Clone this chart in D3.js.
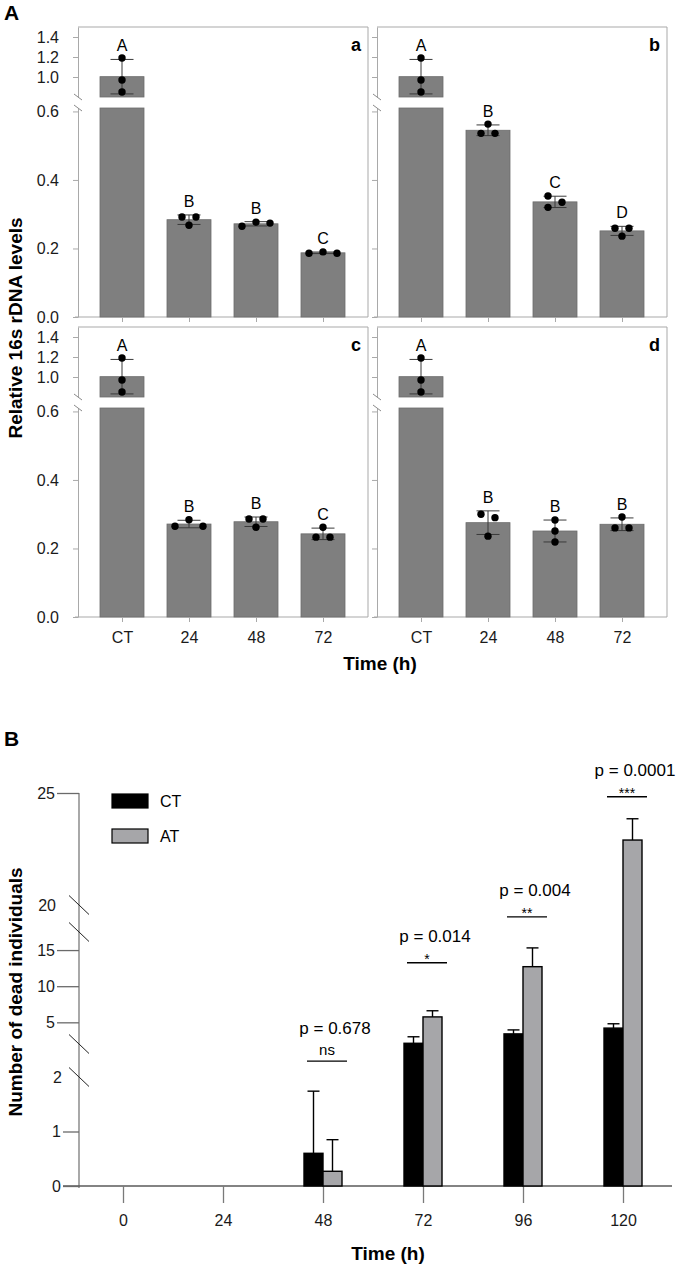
<!DOCTYPE html>
<html>
<head>
<meta charset="utf-8">
<script src="https://cdn.jsdelivr.net/npm/d3@7"></script>
<style>
body { margin: 0; background: #fff; }
svg { font-family: "Liberation Sans", Arial, sans-serif; }
</style>
</head>
<body>
<script>
"use strict"

// ---------- panel A : relative 16s rDNA levels ----------
var timeCats = ["CT", "24", "48", "72"];
var panelNames = ["a", "b", "c", "d"];
var ctDots = [1.19, 0.97, 0.85];
var dotsA = [ctDots, [0.292, 0.292, 0.268], [0.265, 0.277, 0.274], [0.186, 0.19, 0.186]];
var dotsB = [ctDots, [0.563, 0.536, 0.536], [0.353, 0.335, 0.32], [0.259, 0.259, 0.236]];
var dotsC = [ctDots, [0.265, 0.284, 0.265], [0.286, 0.286, 0.262], [0.262, 0.233, 0.233]];
var dotsD = [ctDots, [0.30, 0.29, 0.236], [0.283, 0.251, 0.219], [0.292, 0.26, 0.26]];
var lettersA = ["A", "B", "B", "C"];
var lettersB = ["A", "B", "C", "D"];
var lettersC = ["A", "B", "B", "C"];
var lettersD = ["A", "B", "B", "B"];
var lowTicksA = [0, 0.2, 0.4, 0.6];
var highTicksA = [1.0, 1.2, 1.4];

// ---------- panel B : number of dead individuals ----------
var hours = ["0", "24", "48", "72", "96", "120"];
var ctMean = [0, 0, 0.6, 2.1, 3.4, 4.2];
var ctSd = [0, 0, 1.14, 0.9, 0.55, 0.6];
var atMean = [0, 0, 0.27, 5.75, 12.7, 22.9];
var atSd = [0, 0, 0.58, 0.85, 2.6, 0.95];
var pText = [null, null, "p = 0.678", "p = 0.014", "p = 0.004", "p = 0.0001"];
var stars = [null, null, "ns", "*", "**", "***"];
var lowTicksB = [0, 1];
var midTicksB = [5, 10, 15];
var highTicksB = [25];
var groups = ["CT", "AT"];

var font = '"Liberation Sans", Arial, sans-serif';
var frameCol = "#a9a9a9";
var barGrey = "#7f7f7f";
var atGrey = "#a6a6a9";

var svg = d3.select("body").append("svg")
            .attr("width", 678)
            .attr("height", 1266);

function styleAxis(g, size, col) {
    g.attr("font-family", font).attr("font-size", size);
    g.selectAll("line, path").attr("stroke", col);
    g.selectAll("text").attr("fill", "#1a1a1a");
}

// place replicate dots side by side when they overlap
function spread(vals, yOf) {
    var idx = vals.map(function(v, i) { return i; })
                  .sort(function(a, b) { return yOf(vals[a]) - yOf(vals[b]); });
    var off = vals.map(function() { return 0; });
    var clusters = [], cur = [idx[0]];
    for (var i = 1; i < idx.length; i++) {
        if (yOf(vals[idx[i]]) - yOf(vals[idx[i - 1]]) < 7) cur.push(idx[i]);
        else { clusters.push(cur); cur = [idx[i]]; }
    }
    clusters.push(cur);
    clusters.forEach(function(c) {
        if (c.length < 2) return;
        var span = yOf(vals[c[c.length - 1]]) - yOf(vals[c[0]]);
        if (span < 7) {
            var ord = c.slice().sort(d3.ascending);
            ord.forEach(function(j, n) { off[j] = (n - (ord.length - 1) / 2) * 14; });
        } else {
            c.forEach(function(j, n) { off[j] = n % 2 ? 7 : -7; });
        }
    });
    return off;
}

svg.append("text").attr("x", 4).attr("y", 20)
   .attr("font-size", 21).attr("font-weight", "bold").text("A");

var panelDots = [dotsA, dotsB, dotsC, dotsD];
var panelLetters = [lettersA, lettersB, lettersC, lettersD];

panelNames.forEach(function(name, k) {
    var col = k % 2, row = Math.floor(k / 2);
    var left = 78 + col * 299, top = 27 + row * 300;
    var right = left + 290, bottom = top + 290;

    var yLow = d3.scaleLinear().domain([0, 0.61]).range([bottom, bottom - 209]);
    var yHigh = d3.scaleLinear().domain([0.8, 1.5]).range([top + 70, top]);
    var y = function(v) { return v < 0.7 ? yLow(v) : yHigh(v); };
    var x = d3.scalePoint().domain(timeCats).range([left + 44, left + 245]);

    var g = svg.append("g");

    // frame
    g.append("path")
     .attr("d", "M" + left + "," + top + "H" + right + "V" + bottom)
     .attr("fill", "none").attr("stroke", frameCol);
    g.append("line")
     .attr("x1", left - 3).attr("x2", right)
     .attr("y1", bottom).attr("y2", bottom)
     .attr("stroke", frameCol);

    var data = panelDots[k].map(function(vals, i) {
        return { cat: timeCats[i], vals: vals, mean: d3.mean(vals),
                 sd: d3.deviation(vals), letter: panelLetters[k][i] };
    });

    // bars, cut at the axis break
    [yLow, yHigh].forEach(function(s) {
        var lo = s.domain()[0], hi = s.domain()[1];
        g.selectAll(null)
         .data(data.filter(function(d) { return d.mean > lo; }))
         .join("rect")
         .attr("x", function(d) { return x(d.cat) - 22; })
         .attr("width", 44)
         .attr("y", function(d) { return s(Math.min(d.mean, hi)); })
         .attr("height", function(d) { return s(lo) - s(Math.min(d.mean, hi)); })
         .attr("fill", barGrey)
         .attr("stroke", "#6c6c6c")
         .attr("stroke-width", 0.8);
    });

    // left axis in two segments
    [[yLow, lowTicksA], [yHigh, highTicksA]].forEach(function(p) {
        var ax = g.append("g")
                  .attr("transform", "translate(" + left + ",0)")
                  .call(d3.axisLeft(p[0]).tickValues(p[1]).tickSize(5).tickSizeOuter(0)
                        .tickPadding(14).tickFormat(col ? "" : d3.format(".1f")));
        styleAxis(ax, 16, frameCol);
    });
    [bottom - 209, top + 70].forEach(function(yy) {
        g.append("line")
         .attr("x1", left - 4).attr("x2", left + 4)
         .attr("y1", yy - 3).attr("y2", yy + 3)
         .attr("stroke", "#8a8a8a");
    });

    // bottom ticks
    var bx = g.append("g")
              .attr("transform", "translate(0," + bottom + ")")
              .call(d3.axisBottom(x).tickSize(5).tickSizeOuter(0).tickPadding(10)
                    .tickFormat(row ? null : ""));
    bx.select(".domain").remove();
    styleAxis(bx, 16, frameCol);

    // error bars (mean +/- SD)
    var eb = g.selectAll(null).data(data).join("g").attr("stroke", "#3a3a3a").attr("stroke-width", 1);
    eb.append("line")
      .attr("x1", function(d) { return x(d.cat); })
      .attr("x2", function(d) { return x(d.cat); })
      .attr("y1", function(d) { return y(d.mean - d.sd); })
      .attr("y2", function(d) { return y(d.mean + d.sd); });
    [-1, 1].forEach(function(sgn) {
        eb.append("line")
          .attr("x1", function(d) { return x(d.cat) - 11.5; })
          .attr("x2", function(d) { return x(d.cat) + 11.5; })
          .attr("y1", function(d) { return y(d.mean + sgn * d.sd); })
          .attr("y2", function(d) { return y(d.mean + sgn * d.sd); });
    });

    // replicate dots
    data.forEach(function(d) {
        var off = spread(d.vals, y);
        g.selectAll(null).data(d.vals).join("circle")
         .attr("cx", function(v, i) { return x(d.cat) + off[i]; })
         .attr("cy", function(v) { return y(v); })
         .attr("r", 3.7)
         .attr("fill", "#000");
    });

    // group letters
    g.selectAll(null).data(data).join("text")
     .attr("x", function(d) { return x(d.cat); })
     .attr("y", function(d) { return y(d.mean + d.sd) - 8; })
     .attr("text-anchor", "middle")
     .attr("font-size", 16)
     .text(function(d) { return d.letter; });

    g.append("text")
     .attr("x", right - 7).attr("y", top + 24)
     .attr("text-anchor", "end")
     .attr("font-size", 18).attr("font-weight", "bold")
     .text(name);
});

svg.append("text")
   .attr("transform", "translate(22,328) rotate(-90)")
   .attr("text-anchor", "middle")
   .attr("font-size", 19).attr("font-weight", "bold")
   .text("Relative 16s rDNA levels");

svg.append("text")
   .attr("x", 380).attr("y", 670)
   .attr("text-anchor", "middle")
   .attr("font-size", 19).attr("font-weight", "bold")
   .text("Time (h)");

// ---------- panel B ----------
svg.append("text").attr("x", 4).attr("y", 746)
   .attr("font-size", 21).attr("font-weight", "bold").text("B");

var bLeft = 79, bBase = 1186, bRight = 672;
var seg1 = d3.scaleLinear().domain([0, 2]).range([bBase, 1077]);
var seg2 = d3.scaleLinear().domain([2, 17.5]).range([1044, 932]);
var seg3 = d3.scaleLinear().domain([20, 25]).range([905, 793]);
var yB = d3.scaleLinear()
           .domain([0, 2, 2, 17.5, 20, 25])
           .range([bBase, seg1(2), seg2(2), seg2(17.5), seg3(20), seg3(25)]);
var xB = d3.scalePoint().domain(hours).range([123, 623]);
var bw = 19;

var gB = svg.append("g");

// axes
gB.append("line")
  .attr("x1", bLeft).attr("x2", bLeft)
  .attr("y1", seg3(25)).attr("y2", bBase + 2)
  .attr("stroke", "#7a7a7a").attr("stroke-width", 1.3);
gB.append("line")
  .attr("x1", bLeft - 16).attr("x2", bRight)
  .attr("y1", bBase).attr("y2", bBase)
  .attr("stroke", "#5a5a5a").attr("stroke-width", 1.3);

[[seg1, lowTicksB, 16], [seg2, midTicksB, 22], [seg3, highTicksB, 22]].forEach(function(p) {
    var ax = gB.append("g")
               .attr("transform", "translate(" + bLeft + ",0)")
               .call(d3.axisLeft(p[0]).tickValues(p[1]).tickSize(p[2]).tickSizeOuter(0)
                     .tickPadding(2).tickFormat(d3.format("d")));
    ax.select(".domain").remove();
    styleAxis(ax, 16, "#6a6a6a");
    ax.selectAll("line").attr("stroke-width", 1.3);
});
// labels sitting at the breaks
[[seg1, 2, 62], [seg3, 20, 56]].forEach(function(p) {
    gB.append("text")
      .attr("x", p[2]).attr("y", p[0](p[1]))
      .attr("dy", "0.35em")
      .attr("text-anchor", "end")
      .attr("font-size", 16)
      .attr("fill", "#1a1a1a")
      .text(p[1]);
});
[seg1(2), seg2(2), seg2(17.5), seg3(20)].forEach(function(yy) {
    gB.append("line")
      .attr("x1", bLeft - 10).attr("x2", bLeft + 10)
      .attr("y1", yy - 9.5).attr("y2", yy + 9.5)
      .attr("stroke", "#222").attr("stroke-width", 1);
});

var xAx = gB.append("g")
            .attr("transform", "translate(0," + bBase + ")")
            .call(d3.axisBottom(xB).tickSize(17).tickSizeOuter(0).tickPadding(12));
xAx.select(".domain").remove();
styleAxis(xAx, 16, "#7a7a7a");
xAx.selectAll("line").attr("stroke-width", 1.3);

// bars
var bData = hours.map(function(h, i) {
    return [
        { h: h, grp: 0, mean: ctMean[i], sd: ctSd[i] },
        { h: h, grp: 1, mean: atMean[i], sd: atSd[i] }
    ];
}).flat();

gB.selectAll(null)
  .data(bData.filter(function(d) { return d.mean > 0; }))
  .join("rect")
  .attr("x", function(d) { return xB(d.h) + (d.grp ? 0 : -bw); })
  .attr("width", bw)
  .attr("y", function(d) { return yB(d.mean); })
  .attr("height", function(d) { return bBase - yB(d.mean); })
  .attr("fill", function(d) { return d.grp ? atGrey : "#000"; })
  .attr("stroke", "#000")
  .attr("stroke-width", 1.4);

var eB = gB.selectAll(null)
           .data(bData.filter(function(d) { return d.sd > 0; }))
           .join("g")
           .attr("stroke", "#000").attr("stroke-width", 1.4);
eB.append("line")
  .attr("x1", function(d) { return xB(d.h) + (d.grp ? bw / 2 : -bw / 2); })
  .attr("x2", function(d) { return xB(d.h) + (d.grp ? bw / 2 : -bw / 2); })
  .attr("y1", function(d) { return yB(d.mean); })
  .attr("y2", function(d) { return yB(d.mean + d.sd); });
eB.append("line")
  .attr("x1", function(d) { return xB(d.h) + (d.grp ? bw / 2 : -bw / 2) - 6; })
  .attr("x2", function(d) { return xB(d.h) + (d.grp ? bw / 2 : -bw / 2) + 6; })
  .attr("y1", function(d) { return yB(d.mean + d.sd); })
  .attr("y2", function(d) { return yB(d.mean + d.sd); });

// significance marks
var sigLift = [0, 0, 30, 48, 31, 22];
hours.forEach(function(h, i) {
    if (!pText[i]) return;
    var top = Math.min(yB(ctMean[i] + ctSd[i]), yB(atMean[i] + atSd[i]));
    var ly = top - sigLift[i];
    var cx = xB(h) + 4;
    var isNs = stars[i] === "ns";
    gB.append("line")
      .attr("x1", cx - 20).attr("x2", cx + 20)
      .attr("y1", ly).attr("y2", ly)
      .attr("stroke", "#000").attr("stroke-width", 1.3);
    gB.append("text")
      .attr("x", cx).attr("y", isNs ? ly - 6 : ly + 1)
      .attr("text-anchor", "middle")
      .attr("font-size", isNs ? 15 : 14)
      .text(stars[i]);
    gB.append("text")
      .attr("x", xB(h) + 12).attr("y", isNs ? ly - 27 : ly - 21)
      .attr("text-anchor", "middle")
      .attr("font-size", 17)
      .text(pText[i]);
});

// legend
groups.forEach(function(name, i) {
    gB.append("rect")
      .attr("x", 112).attr("y", 794 + i * 35)
      .attr("width", 36).attr("height", 14)
      .attr("fill", i ? atGrey : "#000")
      .attr("stroke", "#000").attr("stroke-width", 1.2);
    gB.append("text")
      .attr("x", 160).attr("y", 807 + i * 35)
      .attr("font-size", 16)
      .text(name);
});

svg.append("text")
   .attr("transform", "translate(22,992) rotate(-90)")
   .attr("text-anchor", "middle")
   .attr("font-size", 19).attr("font-weight", "bold")
   .text("Number of dead individuals");

svg.append("text")
   .attr("x", 388).attr("y", 1260)
   .attr("text-anchor", "middle")
   .attr("font-size", 19).attr("font-weight", "bold")
   .text("Time (h)");
</script>
</body>
</html>
